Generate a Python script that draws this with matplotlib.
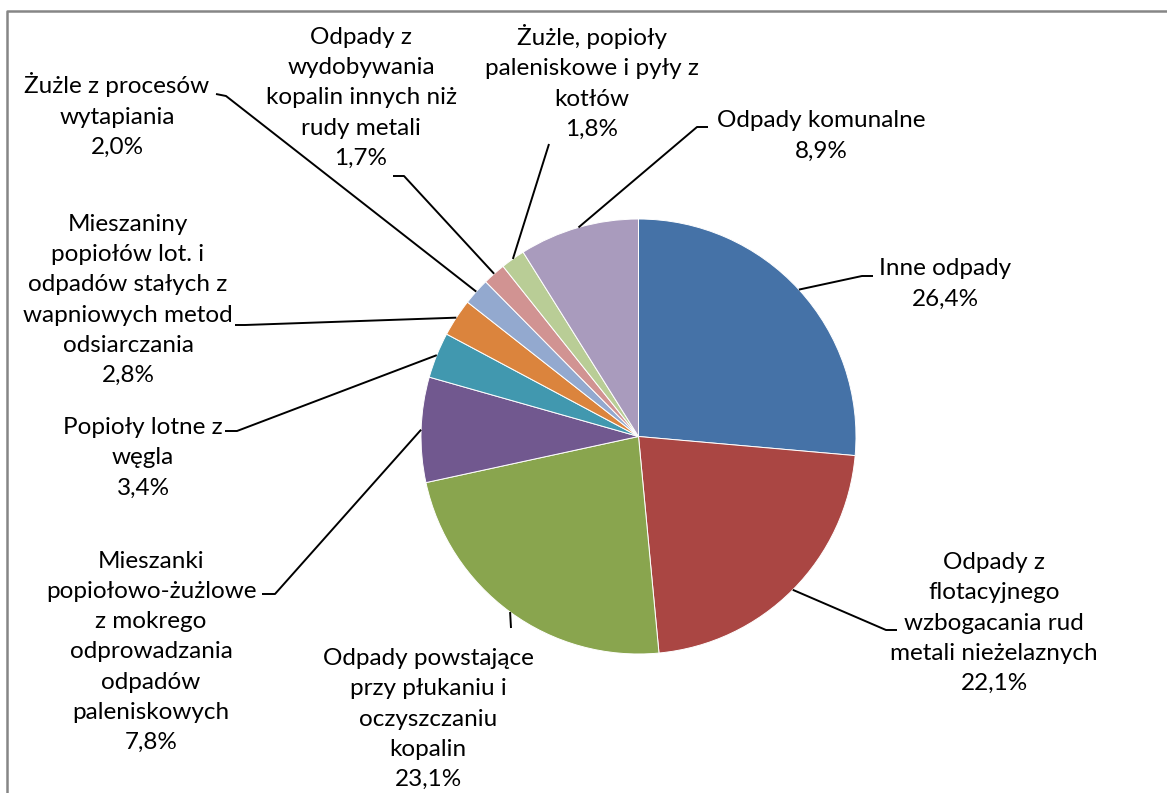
import matplotlib
matplotlib.use('Agg')
import numpy as np
import matplotlib.pyplot as plt

# ===== dane =====
labels = ["Inne odpady",
          "Odpady z\nflotacyjnego\nwzbogacania rud\nmetali nieżelaznych",
          "Odpady powstające\nprzy płukaniu i\noczyszczaniu\nkopalin",
          "Mieszanki\npopiołowo-żużlowe\nz mokrego\nodprowadzania\nodpadów\npaleniskowych",
          "Popioły lotne z\nwęgla",
          "Mieszaniny\npopiołów lot. i\nodpadów stałych z\nwapniowych metod\nodsiarczania",
          "Żużle z procesów\nwytapiania",
          "Odpady z\nwydobywania\nkopalin innych niż\nrudy metali",
          "Żużle, popioły\npaleniskowe i pyły z\nkotłów",
          "Odpady komunalne"]
values = [26.4, 22.1, 23.1, 7.8, 3.4, 2.8, 2.0, 1.7, 1.8, 8.9]
colors = ["#4572A7", "#AA4643", "#89A54E", "#71588F", "#4198AF",
          "#DB843D", "#93A9CF", "#D19392", "#B9CD96", "#A99BBD"]

W, H = 1167, 793
cx, cy, R = 638.5, H - 436.5, 217.5

# pozycje etykiet (środek bloku tekstu) i punkt załamania linii, w pikselach od góry
lab_pos = [(945, 284), (994, 623), (428, 719), (151, 652), (143, 458),
           (128, 300), (117, 115), (361, 98), (592, 82), (821, 136)]
elbow = [((862, 276), (873, 276)), ((886, 630), (897, 630)), ((511, 628), (511, 628)),
         ((275, 594), (262, 594)), ((237, 431), (225, 431)), ((245, 325), (235, 325)),
         ((226, 96), (216, 94)), ((404, 176), (393, 176)), ((549, 144), (549, 144)),
         ((697, 127), (708, 127))]

plt.rcParams['font.family'] = ['Lato', 'DejaVu Sans']

fig = plt.figure(figsize=(W / 100, H / 100), dpi=100)
ax = fig.add_axes([0, 0, 1, 1])
ax.set_xlim(0, W)
ax.set_ylim(0, H)
ax.set_aspect('equal')
ax.axis('off')

wedges, _ = ax.pie(values, colors=colors, startangle=90, counterclock=False,
                   center=(cx, cy), radius=R,
                   wedgeprops=dict(edgecolor='white', linewidth=0.7))
ax.set_xlim(0, W)
ax.set_ylim(0, H)

total = sum(values)
cum = 0
for i, v in enumerate(values):
    mid = 90 - (cum + v / 2) / total * 360
    cum += v
    sx = cx + R * np.cos(np.radians(mid))
    sy = cy + R * np.sin(np.radians(mid))
    (e1x, e1y), (e2x, e2y) = elbow[i]
    ax.plot([sx, e1x, e2x], [sy, H - e1y, H - e2y], color='black', lw=1.4,
            solid_capstyle='butt', zorder=3)
    pct = ("%.1f%%" % v).replace('.', ',')
    lx, ly = lab_pos[i]
    ax.text(lx, H - ly, labels[i] + "\n" + pct, ha='center', va='center',
            fontsize=17.5, linespacing=1.53, color='black')

# ramka wykresu
ax.plot([7, 7, W], [0, H - 11, H - 11], color='#868686', lw=1.8, zorder=5)

fig.savefig("out.png", dpi=100)
plt.close()
